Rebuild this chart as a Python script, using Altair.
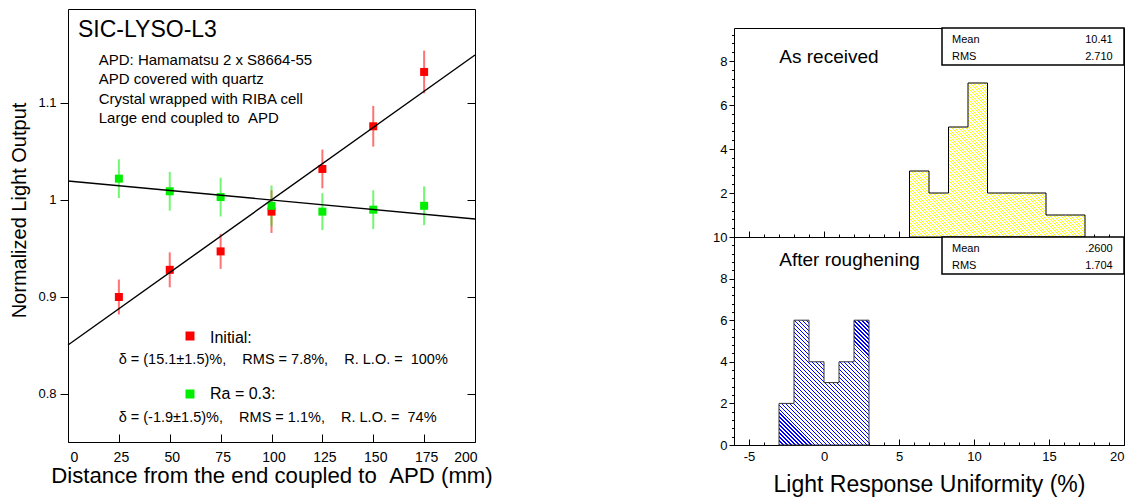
import altair as alt
import pandas as pd

FONT = "Liberation Sans"

# ---------------- left panel data ----------------
distance = [25, 50, 75, 100, 125, 150, 175]
initial_lo = [0.900, 0.928, 0.947, 0.988, 1.032, 1.076, 1.132]
initial_err = [0.018, 0.018, 0.018, 0.022, 0.020, 0.021, 0.022]
rough_lo = [1.022, 1.009, 1.003, 0.994, 0.988, 0.990, 0.994]
rough_err = [0.020, 0.020, 0.020, 0.021, 0.019, 0.020, 0.020]
fit_x = [0, 200]
initial_fit = [0.8505, 1.1495]
rough_fit = [1.0196, 0.9804]
series_names = ["Initial:", "Ra = 0.3:"]
series_colors = ["#ff0000", "#00ee00"]
left_x_ticks = [0, 25, 50, 75, 100, 125, 150, 175, 200]
left_y_ticks = [0.8, 0.9, 1.0, 1.1]

title_text = "SIC-LYSO-L3"
info_lines = ["APD: Hamamatsu 2 x S8664-55", "APD covered with quartz",
              "Crystal wrapped with RIBA cell", "Large end coupled to \u00a0APD"]
stat_lines = ["\u03b4 = (15.1\u00b11.5)%,\u00a0\u00a0\u00a0 RMS = 7.8%,\u00a0\u00a0\u00a0 R. L.O. = \u00a0100%",
              "\u03b4 = (-1.9\u00b11.5)%,\u00a0\u00a0\u00a0 RMS = 1.1%,\u00a0\u00a0\u00a0 R. L.O. = \u00a074%"]

# ---------------- right panel data ----------------
recv_edges = [5.7, 7.0, 8.3, 9.6, 10.9, 12.2, 13.5, 14.8, 16.1, 17.4]
recv_counts = [3, 2, 5, 7, 2, 2, 2, 1, 1]
rough_edges = [-3, -2, -1, 0, 1, 2, 3]
rough_counts = [2, 6, 4, 3, 4, 6]
hist_labels = ["As received", "After roughening"]
stat_names = ["Mean", "RMS"]
recv_stats = ["10.41", "2.710"]
rough_stats = [".2600", "1.704"]
hx_major = [-5, 0, 5, 10, 15, 20]
hx_minor = list(range(-6, 21))
top_y_major = [2, 4, 6, 8]
bot_y_major = [0, 2, 4, 6, 8, 10]
top_y_minor = [round(0.4 * k, 1) for k in range(0, 24)]
bot_y_minor = [round(0.4 * k, 1) for k in range(0, 26)]

ONE = pd.DataFrame({"k": [0]})

# ---------------- left panel ----------------
LW, LH = 407, 433
left_df = pd.DataFrame({
    "series": [series_names[0]] * len(distance) + [series_names[1]] * len(distance),
    "d": distance + distance,
    "lo": initial_lo + rough_lo,
    "err": initial_err + rough_err,
})
left_df["lo_min"] = left_df["lo"] - left_df["err"]
left_df["lo_max"] = left_df["lo"] + left_df["err"]
fit_df = pd.DataFrame({
    "series": [series_names[0]] * 2 + [series_names[1]] * 2,
    "d": fit_x + fit_x,
    "fit": initial_fit + rough_fit,
})

XS = alt.Scale(domain=[0, 200], nice=False, zero=False)
YS = alt.Scale(domain=[0.7505, 1.1969], nice=False, zero=False)
CS = alt.Scale(domain=series_names, range=series_colors)

X_AXIS = alt.Axis(values=left_x_ticks, orient="bottom", offset=-8, tickSize=8, domain=False,
                  labelFontSize=14, labelPadding=8, labelOffset=2, format="d",
                  title="Distance from the end coupled to \u00a0APD (mm)", titleFontSize=22.2,
                  titleY=48.7, titleBaseline="alphabetic")
Y_LEFT = alt.Axis(values=left_y_ticks, orient="left", tickSize=8, domain=False,
                  labelFontSize=13, labelPadding=4, format=".1~f",
                  title="Normalized Light Output", titleFontSize=20, titleAngle=270,
                  titleX=-43, titleY=201, titleAlign="center", titleBaseline="alphabetic")
Y_RIGHT = alt.Axis(values=left_y_ticks, orient="right", offset=-8, tickSize=8, domain=False,
                   labels=False, title=None)

xenc = alt.X("d:Q", scale=XS, axis=X_AXIS)

err = alt.Chart(left_df).mark_rule(strokeWidth=2, opacity=0.55).encode(
    x=xenc,
    y=alt.Y("lo_min:Q", scale=YS, axis=None),
    y2="lo_max:Q",
    color=alt.Color("series:N", scale=CS, legend=None),
)
pts = alt.Chart(left_df).mark_square(size=64, opacity=1).encode(
    x=xenc,
    y=alt.Y("lo:Q", scale=YS, axis=Y_LEFT),
    color=alt.Color("series:N", scale=CS, legend=None),
)
fits = alt.Chart(fit_df).mark_line(color="black", strokeWidth=1.4).encode(
    x=xenc,
    y=alt.Y("fit:Q", scale=YS, axis=Y_RIGHT),
    detail="series:N",
)


def txt(text, x, y, size, align="left", **kw):
    return alt.Chart(ONE).mark_text(text=text, font=FONT, fontSize=size, align=align,
                                    baseline="alphabetic", color="black", **kw).encode(
        x=alt.value(x), y=alt.value(y))


def sq(color, x, y):
    return alt.Chart(ONE).mark_square(size=81, color=color, opacity=1).encode(
        x=alt.value(x), y=alt.value(y))


left = alt.layer(
    err, pts, fits,
    txt(title_text, 10, 27.5, 23),
    txt(info_lines, 30.7, 56, 15, lineHeight=19.3),
    sq(series_colors[0], 122, 327),
    txt(series_names[0], 142, 333.7, 16),
    txt(stat_lines[0], 50.7, 355.3, 14.5),
    sq(series_colors[1], 122, 385),
    txt(series_names[1], 142, 390.3, 16),
    txt(stat_lines[1], 50.7, 412.7, 14.5),
).resolve_axis(y="independent").properties(width=LW, height=LH)

# ---------------- right panels ----------------
RW, TH, BH = 390, 209, 208
HXS = alt.Scale(domain=[-6, 20], nice=False, zero=False)
PXU = RW / 26.0


def hatch(color, w_px, h_px, period, duty):
    r = h_px / w_px
    n = int(round((w_px + h_px) / period))
    stops = []
    for k in range(n):
        a = round(k / n, 5)
        b = round((k + duty) / n, 5)
        c = round((k + 1) / n, 5)
        stops += [alt.GradientStop(offset=a, color=color), alt.GradientStop(offset=b, color=color),
                  alt.GradientStop(offset=b, color="white"), alt.GradientStop(offset=c, color="white")]
    s = (1 + r) / (1 + r * r)
    return alt.LinearGradient(gradient="linear", stops=stops, x1=0, y1=1,
                              x2=round(s, 5), y2=round(1 - r * s, 5))


def hist_panel(edges, counts, ymax, height, ymajor, yminor, color, outline, name, stats,
               bottom, period, duty):
    df = pd.DataFrame({"x": edges, "n": counts + [counts[-1]]})
    ys = alt.Scale(domain=[0, ymax], nice=False, zero=True)
    w_px = (edges[-1] - edges[0]) * PXU
    h_px = max(counts) * height / ymax
    if bottom:
        xmaj = alt.Axis(values=hx_major, orient="bottom", offset=-6, tickSize=6, domain=False,
                        labelFontSize=13, labelPadding=5, labelExpr="'' + datum.value",
                        title="Light Response Uniformity (%)", titleFontSize=23,
                        titleY=52, titleBaseline="alphabetic")
    else:
        xmaj = alt.Axis(values=hx_major, orient="bottom", offset=-6, tickSize=6, domain=False,
                        labels=False, title=None)
    xmin = alt.Axis(values=hx_minor, orient="bottom", offset=-3, tickSize=3, domain=False,
                    labels=False, title=None)
    ymaj = alt.Axis(values=ymajor, orient="left", tickSize=5, domain=False, labelFontSize=13,
                    labelPadding=2, format="d", title=None)
    ymin = alt.Axis(values=yminor, orient="left", tickSize=2.5, domain=False, labels=False,
                    title=None)
    area = alt.Chart(df).mark_area(interpolate="step-after",
                                   fill=hatch(color, w_px, h_px, period, duty),
                                   stroke=outline, strokeWidth=1).encode(
        x=alt.X("x:Q", scale=HXS, axis=xmaj),
        y=alt.Y("n:Q", scale=ys, axis=ymaj),
    )
    minor = alt.Chart(df).mark_line(interpolate="step-after", strokeOpacity=0).encode(
        x=alt.X("x:Q", scale=HXS, axis=xmin),
        y=alt.Y("n:Q", scale=ys, axis=ymin),
    )
    box = alt.Chart(ONE).mark_rect(fill="white", stroke="black", strokeWidth=1.5).encode(
        x=alt.value(208), x2=alt.value(RW), y=alt.value(0), y2=alt.value(37))
    return alt.layer(
        area, minor, box,
        txt(name, 45.3, 34.7 if not bottom else 29, 19),
        txt(stat_names[0], 218, 15, 11),
        txt(stat_names[1], 218, 32, 11),
        txt(stats[0], 378.7, 15, 11, align="right"),
        txt(stats[1], 378.7, 32, 11, align="right"),
    ).resolve_axis(x="independent", y="independent").properties(width=RW, height=height)


top = hist_panel(recv_edges, recv_counts, 9.5, TH, top_y_major, top_y_minor,
                 "#ffff00", "black", hist_labels[0], recv_stats, False, 3.5, 0.32)
bot = hist_panel(rough_edges, rough_counts, 10, BH, bot_y_major, bot_y_minor,
                 "#0000ff", "#333333", hist_labels[1], rough_stats, True, 4.0, 0.3)

spacer = alt.Chart(ONE).mark_point(opacity=0, size=1).encode(
    x=alt.value(RW / 2), y=alt.value(10)).properties(
    width=RW, height=19, view=alt.ViewBackground(stroke="transparent"))

right = alt.vconcat(spacer, top, bot, spacing=0, bounds="flush")

chart = alt.hconcat(left, right, spacing=259, bounds="flush").properties(
    padding={"left": 0, "top": 0, "right": 0, "bottom": 0}
).configure_view(stroke="black", strokeWidth=1).configure_axis(
    grid=False, labelFont=FONT, titleFont=FONT, labelColor="black", titleColor="black",
    tickColor="black", titleFontWeight="normal"
).configure_text(font=FONT)

chart.save("out.html", embed_options={"renderer": "svg", "actions": False})
